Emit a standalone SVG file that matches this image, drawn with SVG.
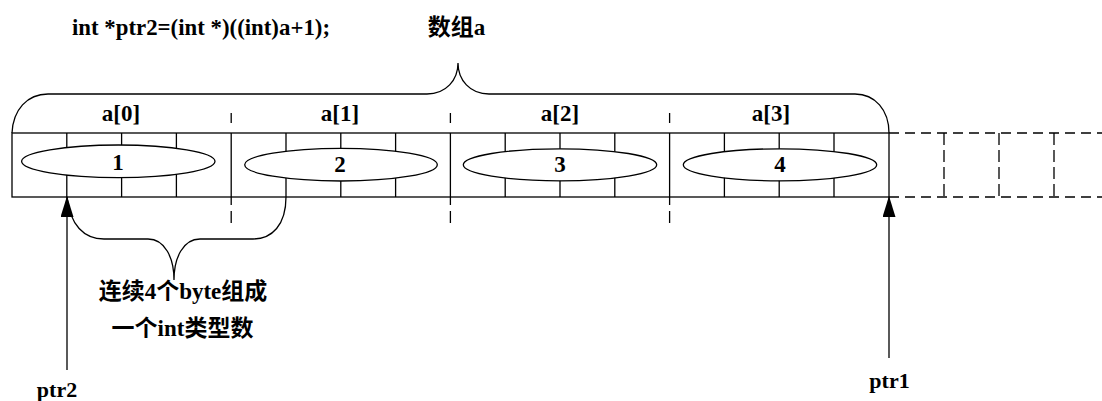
<svg xmlns="http://www.w3.org/2000/svg" width="1102" height="401" viewBox="0 0 1102 401">
  <style>
    .ln { stroke: #000; stroke-width: 1.3; fill: none; }
    .dash { stroke: #000; stroke-width: 1.3; fill: none; stroke-dasharray: 10 6; }
    .vdash { stroke: #000; stroke-width: 1.3; fill: none; stroke-dasharray: 12 5; }
    .ell { stroke: #000; stroke-width: 1.3; fill: #fff; }
    .t { font-family: "Liberation Serif", "Noto Sans CJK SC", serif; font-weight: bold; font-size: 23px; fill: #000; text-anchor: middle; }
    .s { font-size: 22px; }
  </style>
  <defs>
    <marker id="arr" markerUnits="userSpaceOnUse" markerWidth="21" markerHeight="13" refX="20" refY="6.5" orient="auto">
      <path d="M0,0 L21,6.5 L0,13 Z" fill="#000"/>
    </marker>
  </defs>

  <rect width="1102" height="401" fill="#fff"/>

  <g id="code-label">
    <text class="t" x="201" y="35" textLength="258" lengthAdjust="spacingAndGlyphs">int *ptr2=(int *)((int)a+1);</text>
  </g>
  <g id="array-label">
    <text class="t" x="456.5" y="35">数组a</text>
  </g>

  <g id="array-brace">
    <path class="ln" d="M12,133 C13,110 27,94 48,94 L427,94 C446,94 458,80 458,63 C458,80 470,94 489,94 L855,94 C875,94 889,110 889,133"/>
  </g>

  <g id="array">
    <rect class="ln" x="12" y="133" width="877" height="64"/>
    <path class="ln" d="M66.8,133 V197 M121.6,133 V197 M176.4,133 V197 M231.2,133 V197 M286,133 V197 M340.8,133 V197 M395.6,133 V197 M450.4,133 V197 M505.2,133 V197 M560,133 V197 M614.8,133 V197 M669.6,133 V197 M724.4,133 V197 M779.2,133 V197 M834,133 V197"/>
    <path class="ln" d="M231.2,113 V123 M231.2,197 V205 M231.2,211 V223 M450.4,113 V123 M450.4,197 V205 M450.4,211 V223 M669.6,113 V123 M669.6,197 V205 M669.6,211 V223"/>
  </g>

  <g id="array-extension">
    <path class="dash" d="M889,133 H1102 M889,197 H1102"/>
    <path class="vdash" d="M944,133 V197 M999,133 V197 M1054,133 V197"/>
  </g>

  <g id="elem-0">
    <text class="t" x="121" y="121">a[0]</text>
    <ellipse class="ell" cx="118.3" cy="161.3" rx="96.7" ry="16.3"/>
    <text class="t" x="118" y="170">1</text>
  </g>
  <g id="elem-1">
    <text class="t" x="340" y="121">a[1]</text>
    <ellipse class="ell" cx="341" cy="164.7" rx="96.3" ry="16.3"/>
    <text class="t" x="340" y="171.5">2</text>
  </g>
  <g id="elem-2">
    <text class="t" x="560" y="121">a[2]</text>
    <ellipse class="ell" cx="560" cy="164.8" rx="96.7" ry="16"/>
    <text class="t" x="560" y="171.5">3</text>
  </g>
  <g id="elem-3">
    <text class="t" x="771" y="121">a[3]</text>
    <ellipse class="ell" cx="780" cy="164.8" rx="96.7" ry="16"/>
    <text class="t" x="780" y="171.5">4</text>
  </g>

  <g id="int-brace">
    <path class="ln" d="M67,197 C70,225 84,239 104,239 L148,239 C165,239 174,258 174,280 C174,258 183,239 200,239 L253,239 C272,239 286,225 286,197"/>
    <text class="t" x="183" y="299">连续4个byte组成</text>
    <text class="t" x="182.5" y="336">一个int类型数</text>
  </g>

  <g id="connectors">
    <line class="ln" x1="67" y1="370" x2="67" y2="197" marker-end="url(#arr)"/>
    <line class="ln" x1="889" y1="358" x2="889" y2="197" marker-end="url(#arr)"/>
  </g>

  <g id="ptr2">
    <text class="t s" x="57" y="397">ptr2</text>
  </g>
  <g id="ptr1">
    <text class="t s" x="889.5" y="388">ptr1</text>
  </g>
</svg>
